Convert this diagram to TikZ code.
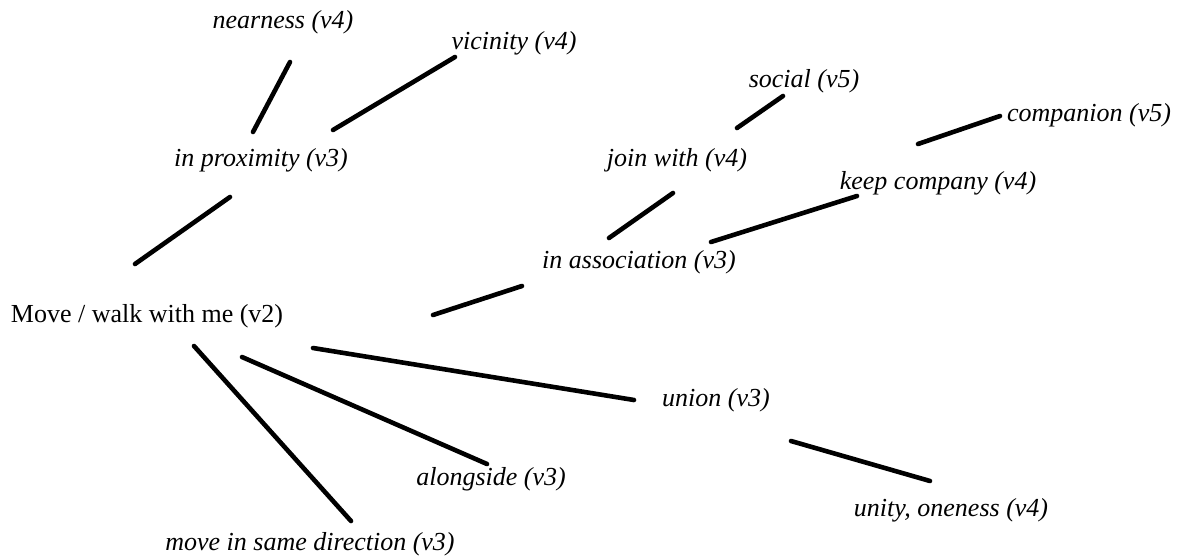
\documentclass[tikz,border=0pt]{standalone}
\usepackage{fontspec}
\setmainfont{Liberation Serif}
\usetikzlibrary{positioning}

\begin{document}
\begin{tikzpicture}[x=0.5pt,y=-0.5pt,
    word/.style={inner sep=0pt,font=\fontsize{13}{15}\selectfont\itshape},
    link/.style={line width=2.3pt,line cap=round}]
  \useasboundingbox (0,0) rectangle (1178,558);

  % root phrase
  \node[word,font=\fontsize{13}{15}\selectfont] (move) at (147,316) {Move / walk with me (v2)};

  % upper branch
  \node[word] (prox) at (261,160) {in proximity (v3)};
  \node[word] (near) at (283,22) {nearness (v4)};
  \node[word] (vic) at (514,43) {vicinity (v4)};

  % association branch
  \node[word] (assoc) at (639,262) {in association (v3)};
  \node[word] (join) at (677,160) {join with (v4)};
  \node[word] (social) at (804,81) {social (v5)};
  \node[word] (keep) at (938,183) {keep company (v4)};
  \node[word] (comp) at (1089,115) {companion (v5)};

  % lower branches
  \node[word] (union) at (716,400) {union (v3)};
  \node[word] (unity) at (951,510) {unity, oneness (v4)};
  \node[word] (along) at (491,479) {alongside (v3)};
  \node[word] (samedir) at (310,544) {move in same direction (v3)};

  % connectors, kept clear of the words
  \draw[link] ([shift={(7,40)}]near.center) -- ([shift={(-8,-28)}]prox.center);
  \draw[link] ([shift={(-59,14)}]vic.center) -- ([shift={(72,-30)}]prox.center);
  \draw[link] ([shift={(-31,37)}]prox.center) -- ([shift={(-12,-52)}]move.center);
  \draw[link] ([shift={(-21,15)}]social.center) -- ([shift={(60,-32)}]join.center);
  \draw[link] ([shift={(-89,1)}]comp.center) -- ([shift={(-20,-39)}]keep.center);
  \draw[link] ([shift={(-4,33)}]join.center) -- ([shift={(-30,-24)}]assoc.center);
  \draw[link] ([shift={(-81,13)}]keep.center) -- ([shift={(72,-20)}]assoc.center);
  \draw[link] ([shift={(-117,24)}]assoc.center) -- ([shift={(286,-1)}]move.center);
  \draw[link] ([shift={(166,32)}]move.center) -- ([shift={(-82,0)}]union.center);
  \draw[link] ([shift={(95,41)}]move.center) -- ([shift={(-4,-15)}]along.center);
  \draw[link] ([shift={(47,30)}]move.center) -- ([shift={(41,-23)}]samedir.center);
  \draw[link] ([shift={(75,41)}]union.center) -- ([shift={(-21,-29)}]unity.center);
\end{tikzpicture}
\end{document}
